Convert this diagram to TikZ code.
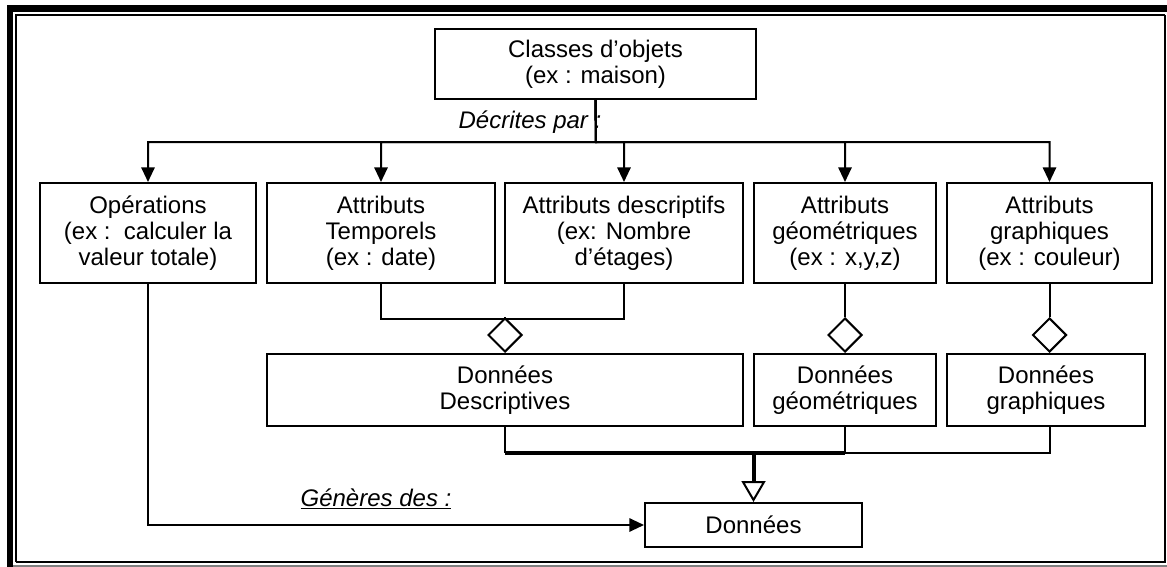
\documentclass[tikz,border=0pt]{standalone}
\usepackage{fontspec}
\setmainfont{Liberation Sans}
\usetikzlibrary{arrows.meta,shapes.geometric}
\newcommand\diagfont{\fontsize{18}{19.6}\selectfont}
\begin{document}
\begin{tikzpicture}[x=0.75pt,y=-0.75pt,
  box/.style n args={2}{draw, line width=1.5pt, minimum width=#1*0.75pt,
    minimum height=#2*0.75pt, inner sep=0pt, align=center, font=\diagfont},
  con/.style={line width=1.5pt},
  arr/.style={line width=1.5pt, -{Triangle[length=11pt,width=10pt]}},
  dia/.style={draw, line width=1.5pt, fill=white, diamond, inner sep=0pt,
    minimum width=25.5pt, minimum height=25.5pt},
  lab/.style={font=\diagfont\itshape, inner sep=0pt}
]
\useasboundingbox (0,0) rectangle (1167,567);

% page border: thick outer rule on the left and top, thin inner frame
\fill (7,5) rectangle (13,567);
\fill (7,5) rectangle (1167,12);
\draw[line width=1.1pt] (16,562) -- (16,15) -- (1165,15);
\draw[line width=1.9pt] (1165,15) -- (1165,562) -- (16,562);
\draw[gray, line width=1pt] (13,566) -- (1167,566);

% boxes
\node[box={321}{70}] (classes) at (595.5,64) {Classes d’objets\\(ex : maison)};
\node[box={216}{100}] (ops) at (148,233) {Opérations\\(ex :\ \ calculer la\\valeur totale)};
\node[box={228}{100}] (temp) at (381,233) {Attributs\\Temporels\\(ex : date)};
\node[box={238}{100}] (desc) at (624,233) {Attributs descriptifs\\(ex: Nombre\\d’étages)};
\node[box={182}{100}] (geo) at (845,233) {Attributs\\géométriques\\(ex : x,y,z)};
\node[box={205}{100}] (graph) at (1049.5,233) {Attributs\\graphiques\\(ex : couleur)};
\node[box={476}{72}] (dondesc) at (505,390) {Données\\Descriptives};
\node[box={182}{72}] (dongeo) at (845,390) {Données\\géométriques};
\node[box={198}{72}] (dongra) at (1046,390) {Données\\graphiques};
\node[box={217}{44}] (donnees) at (753.5,525) {Données};

% labels
\node[lab] (decr) at (530,122) {Décrites par :};
\node[lab] (gen) at (376,499) {\underline{Génères des :}};

% "described by" fan-out
\coordinate (busT) at (596,142);
\draw[arr] (classes.south) -- (busT) -| (ops.north);
\draw[arr] (classes.south) -- (busT) -| (temp.north);
\draw[arr] (classes.south) -- (busT) -| (desc.north);
\draw[arr] (classes.south) -- (busT) -| (geo.north);
\draw[arr] (classes.south) -- (busT) -| (graph.north);

% aggregations
\coordinate (j1) at (505,319);
\node[dia, anchor=south] (d1) at (dondesc.north) {};
\draw[con] (temp.south) |- (j1) -| (desc.south);
\draw[con] (j1) -- (d1.north);
\node[dia, anchor=south] (d2) at (dongeo.north) {};
\draw[con] (geo.south) -- (d2.north);
\node[dia, anchor=south] (d3) at (graph.south |- dongra.north) {};
\draw[con] (graph.south) -- (d3.north);

% generalisation into "Données"
\coordinate (jb) at (753.5,453);
\draw[con] (dondesc.south) -- (dondesc.south |- jb);
\draw[line width=2.3pt] (dondesc.south |- jb) -- (dongeo.south |- jb);
\draw[con] (dongeo.south) -- (dongeo.south |- jb);
\draw[con] (dongeo.south |- jb) -| (dongra.south -| d3.south);
\draw[line width=3pt, -{Triangle[open, length=15.75pt, width=18pt, line width=1.5pt]}] (jb) -- (donnees.north);

% operations generate data
\draw[arr] (ops.south) |- (donnees.west);
\end{tikzpicture}
\end{document}
